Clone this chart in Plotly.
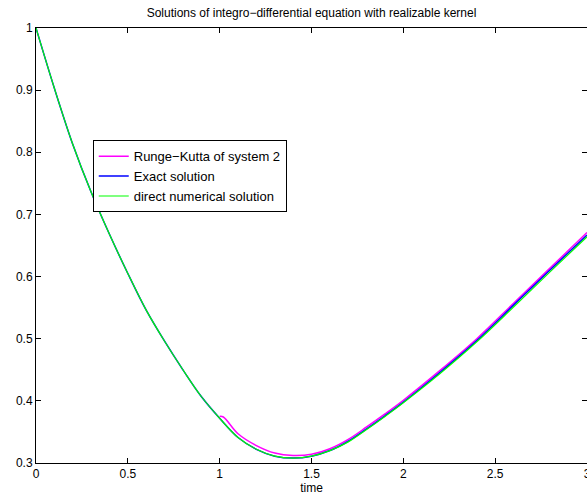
import plotly.graph_objects as go

# Exact solution
t_exact = [0, 0.1, 0.2, 0.3, 0.4, 0.5, 0.6, 0.7, 0.8, 0.9, 1.0, 1.1, 1.2, 1.3, 1.4,
           1.5, 1.6, 1.7, 1.8, 1.9, 2.0, 2.2, 2.4, 2.6, 2.8, 3.0]
v_exact = [1.0, 0.903, 0.813, 0.736, 0.668, 0.605, 0.546, 0.496, 0.450, 0.407, 0.372,
           0.341, 0.322, 0.311, 0.308, 0.311, 0.320, 0.335, 0.355, 0.376, 0.398,
           0.446, 0.497, 0.554, 0.611, 0.667]

# Direct numerical solution
t_direct = t_exact
v_direct = [1.0, 0.903, 0.813, 0.736, 0.668, 0.605, 0.546, 0.496, 0.450, 0.407, 0.372,
            0.341, 0.322, 0.311, 0.308, 0.311, 0.320, 0.334, 0.354, 0.375, 0.397,
            0.444, 0.495, 0.551, 0.608, 0.664]

# Runge-Kutta of system 2 (starts at t = 1)
t_rk = [1.0, 1.02, 1.1, 1.2, 1.3, 1.4, 1.5, 1.6, 1.7, 1.8, 1.9, 2.0, 2.2, 2.4, 2.6, 2.8, 3.0]
v_rk = [0.375, 0.374, 0.347, 0.328, 0.316, 0.312, 0.314, 0.323, 0.338, 0.358, 0.379,
        0.401, 0.449, 0.500, 0.557, 0.614, 0.671]

x_ticks = [0, 0.5, 1, 1.5, 2, 2.5, 3]
x_labels = ["0", "0.5", "1", "1.5", "2", "2.5", "3"]
y_ticks = [0.3, 0.4, 0.5, 0.6, 0.7, 0.8, 0.9, 1.0]
y_labels = ["0.3", "0.4", "0.5", "0.6", "0.7", "0.8", "0.9", "1"]

title_text = "Solutions of integro\u2212differential equation with realizable kernel"

fig = go.Figure()
fig.add_trace(go.Scatter(x=t_rk, y=v_rk, mode="lines", name="Runge\u2212Kutta of system 2",
                         line=dict(color="#ff00ff", width=1.5, shape="spline", smoothing=1.0)))
fig.add_trace(go.Scatter(x=t_exact, y=v_exact, mode="lines", name="Exact solution",
                         line=dict(color="#0000ff", width=1.5, shape="spline", smoothing=1.0)))
fig.add_trace(go.Scatter(x=t_direct, y=v_direct, mode="lines", name="direct numerical solution",
                         line=dict(color="#00ff00", width=1.2, shape="spline", smoothing=1.0)))

font_family = "Liberation Sans, Arial, Helvetica, sans-serif"

fig.update_layout(
    width=587, height=496,
    margin=dict(l=36, r=0, t=28, b=33),
    paper_bgcolor="white", plot_bgcolor="white",
    font=dict(family=font_family, size=12, color="black"),
    title=dict(text=title_text, x=(36 + 587) / 2 / 587, xanchor="center",
               y=1 - 13 / 496, yanchor="middle", font=dict(size=12, color="black")),
    showlegend=True,
    legend=dict(x=0.103, y=0.742, xanchor="left", yanchor="top",
                bgcolor="white", bordercolor="black", borderwidth=1,
                font=dict(size=13, color="black"), tracegroupgap=0,
                itemwidth=30),
    xaxis=dict(range=[0, 3], tickvals=x_ticks, ticktext=x_labels,
               showgrid=False, zeroline=False, showline=True, linecolor="black",
               linewidth=1, mirror="ticks", ticks="inside", ticklen=5, tickcolor="black",
               ticklabeloverflow="allow", tickfont=dict(size=12),
               title=dict(text="time", standoff=3, font=dict(size=12)), automargin=False),
    yaxis=dict(range=[0.3, 1.0], tickvals=y_ticks, ticktext=y_labels,
               showgrid=False, zeroline=False, showline=True, linecolor="black",
               linewidth=1, mirror="ticks", ticks="inside", ticklen=5, tickcolor="black",
               ticklabeloverflow="allow", tickfont=dict(size=12), automargin=False),
)

fig.write_html("out.html", config={"displayModeBar": False},
               post_script="document.body.style.margin='0';")
